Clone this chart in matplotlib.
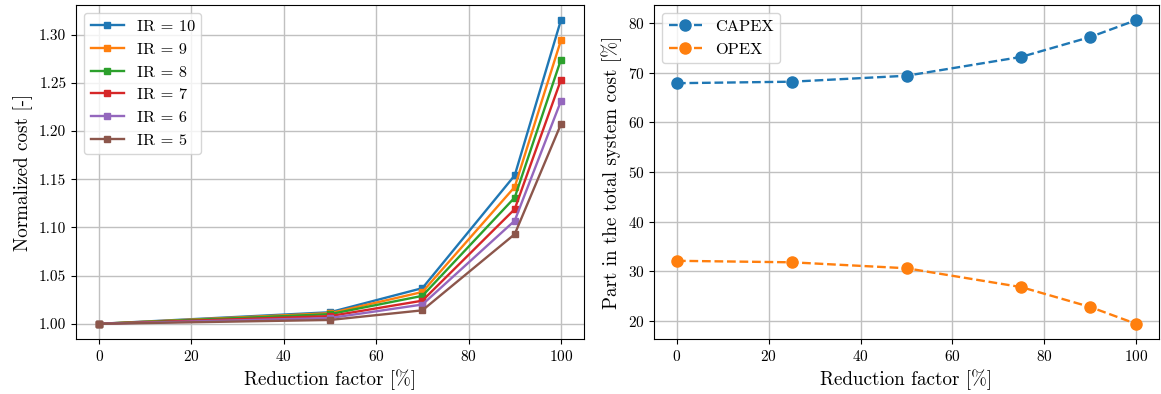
import matplotlib
matplotlib.use("Agg")
import matplotlib.pyplot as plt

plt.rcParams['font.family'] = ['cmr10', 'DejaVu Serif']
plt.rcParams['mathtext.fontset'] = 'cm'
plt.rcParams['axes.formatter.use_mathtext'] = True
plt.rcParams['axes.unicode_minus'] = False

# Left panel data
reduction_left = [0, 50, 70, 90, 100]
ir_labels = ["IR = 10", "IR = 9", "IR = 8", "IR = 7", "IR = 6", "IR = 5"]
cost_ir10 = [1.000, 1.012, 1.037, 1.154, 1.315]
cost_ir9 = [1.000, 1.011, 1.033, 1.142, 1.294]
cost_ir8 = [1.000, 1.010, 1.029, 1.131, 1.274]
cost_ir7 = [1.000, 1.008, 1.024, 1.119, 1.253]
cost_ir6 = [1.000, 1.006, 1.020, 1.107, 1.231]
cost_ir5 = [1.000, 1.004, 1.014, 1.093, 1.207]

# Right panel data
reduction_right = [0, 25, 50, 75, 90, 100]
capex = [67.9, 68.2, 69.4, 73.2, 77.2, 80.6]
opex = [32.1, 31.8, 30.6, 26.8, 22.8, 19.4]

W, H = 1161, 394
fig = plt.figure(figsize=(W / 100, H / 100), dpi=100)
ax1 = fig.add_axes([76 / W, (H - 339) / H, (584 - 76) / W, 334 / H])
ax2 = fig.add_axes([654 / W, (H - 339) / H, (1159 - 654) / W, 334 / H])

grid_color = '#c0c0c0'

series = [cost_ir10, cost_ir9, cost_ir8, cost_ir7, cost_ir6, cost_ir5]
for lab, vals in zip(ir_labels, series):
    ax1.plot(reduction_left, vals, marker='s', markersize=5, linewidth=1.7, label=lab)
ax1.set_xlabel("Reduction factor [%]", fontsize=13.7)
ax1.set_ylabel("Normalized cost [-]", fontsize=13.7)
ax1.set_yticks([1.00, 1.05, 1.10, 1.15, 1.20, 1.25, 1.30])
ax1.set_yticklabels(["1.00", "1.05", "1.10", "1.15", "1.20", "1.25", "1.30"])
ax1.grid(True, color=grid_color, linewidth=1.0)
ax1.legend(loc='upper left', fontsize=11.8)
ax1.tick_params(labelsize=11)

ax2.plot(reduction_right, capex, linestyle='--', marker='o', markersize=8, linewidth=1.7, label="CAPEX")
ax2.plot(reduction_right, opex, linestyle='--', marker='o', markersize=8, linewidth=1.7, label="OPEX")
ax2.set_xlabel("Reduction factor [%]", fontsize=13.7)
ax2.set_ylabel("Part in the total system cost [%]", fontsize=13.7)
ax2.grid(True, color=grid_color, linewidth=1.0)
ax2.legend(loc='upper left', fontsize=11.8)
ax2.tick_params(labelsize=11)

fig.savefig("out.png", dpi=100)
